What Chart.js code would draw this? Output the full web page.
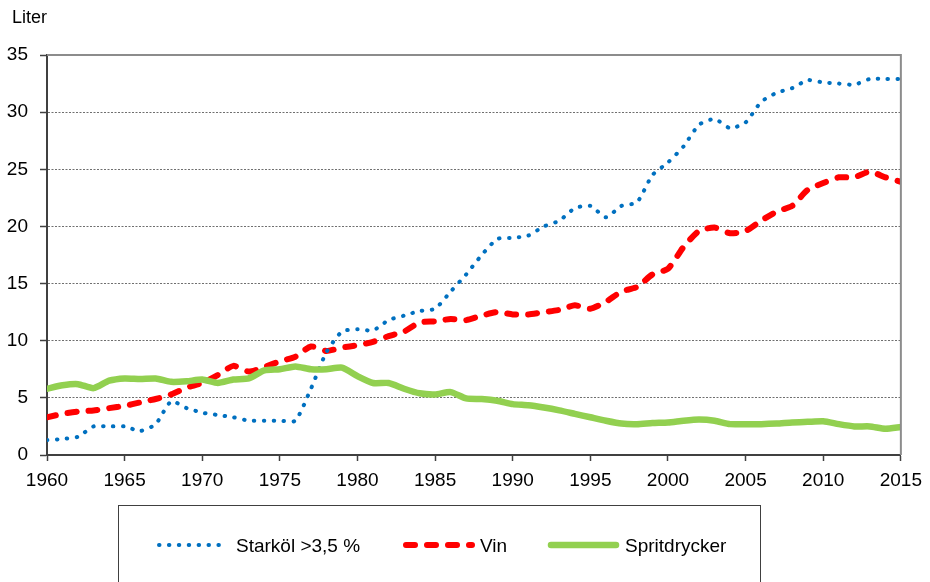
<!DOCTYPE html>
<html>
<head>
<meta charset="utf-8">
<script src="https://cdn.jsdelivr.net/npm/chart.js@4/dist/chart.umd.min.js"></script>
<style>
  html, body { margin: 0; padding: 0; background: #fff; }
  .chart-container { position: relative; width: 930px; height: 582px; }
</style>
</head>
<body>
<div class="chart-container">
  <canvas id="chart"></canvas>
</div>
<script>
// Liter per invånare, 1960-2015
const years = [
  1960, 1961, 1962, 1963, 1964, 1965, 1966, 1967, 1968, 1969,
  1970, 1971, 1972, 1973, 1974, 1975, 1976, 1977, 1978, 1979,
  1980, 1981, 1982, 1983, 1984, 1985, 1986, 1987, 1988, 1989,
  1990, 1991, 1992, 1993, 1994, 1995, 1996, 1997, 1998, 1999,
  2000, 2001, 2002, 2003, 2004, 2005, 2006, 2007, 2008, 2009,
  2010, 2011, 2012, 2013, 2014, 2015
];

const starkol = [
  1.3, 1.4, 1.6, 2.5, 2.5, 2.5, 2.1, 2.7, 4.7, 4.1,
  3.7, 3.5, 3.3, 3.0, 3.0, 3.0, 3.0, 5.8, 9.0, 10.8,
  11.0, 10.9, 11.8, 12.2, 12.6, 12.8, 14.3, 15.8, 17.5, 18.9,
  19.0, 19.2, 20.0, 20.5, 21.6, 21.8, 20.8, 21.8, 22.1, 24.5,
  25.6, 27.0, 28.9, 29.4, 28.6, 29.1, 30.9, 31.7, 32.1, 32.8,
  32.6, 32.5, 32.4, 32.9, 32.9, 32.9
];

const vin = [
  3.3, 3.6, 3.8, 3.9, 4.1, 4.3, 4.6, 4.9, 5.3, 5.9,
  6.3, 7.0, 7.8, 7.3, 7.7, 8.2, 8.6, 9.5, 9.1, 9.4,
  9.6, 9.9, 10.4, 10.8, 11.6, 11.7, 11.9, 11.8, 12.2, 12.5,
  12.3, 12.3, 12.5, 12.7, 13.1, 12.8, 13.4, 14.3, 14.7, 15.8,
  16.3, 18.2, 19.6, 19.9, 19.4, 19.6, 20.5, 21.3, 21.8, 23.2,
  23.8, 24.3, 24.3, 24.8, 24.3, 23.9
];

const sprit = [
  5.8, 6.1, 6.2, 5.85, 6.5, 6.7, 6.65, 6.7, 6.4, 6.45,
  6.6, 6.3, 6.6, 6.7, 7.4, 7.5, 7.75, 7.5, 7.5, 7.65,
  6.9, 6.3, 6.3, 5.8, 5.4, 5.3, 5.5, 4.95, 4.9, 4.75,
  4.45, 4.35, 4.15, 3.9, 3.6, 3.3, 3.0, 2.75, 2.7, 2.8,
  2.85, 3.0, 3.1, 3.0, 2.7, 2.7, 2.7, 2.75, 2.85, 2.9,
  2.95, 2.7, 2.5, 2.5, 2.3, 2.45
];

const seriesNames = ['Starköl >3,5 %', 'Vin', 'Spritdrycker'];

const FONT = '"Liberation Sans", Arial, Helvetica, sans-serif';
Chart.defaults.font.family = FONT;
Chart.defaults.color = '#000';

const toPoints = (vals) => vals.map((v, i) => ({ x: years[i], y: v }));

const styles = [
  { color: '#0070C0', width: 4, dash: [0.5, 9.4], cap: 'round' },
  { color: '#FF0000', width: 6, dash: [9, 12], cap: 'round' },
  { color: '#92D050', width: 6.5, dash: [], cap: 'round' }
];

// ram runt diagrammet, "Liter" och legendrutan
const framePlugin = {
  id: 'frameAndLegend',
  afterDraw(chart) {
    const ctx = chart.ctx;
    const a = chart.chartArea;
    ctx.save();

    ctx.strokeStyle = '#8c8c8c';
    ctx.lineWidth = 2;
    ctx.beginPath();
    ctx.moveTo(a.left, a.top);
    ctx.lineTo(a.right, a.top);
    ctx.lineTo(a.right, a.bottom);
    ctx.stroke();

    ctx.fillStyle = '#000';
    ctx.font = '18px ' + FONT;
    ctx.textBaseline = 'alphabetic';
    ctx.textAlign = 'left';
    ctx.fillText('Liter', 12, 23);

    // legend
    ctx.strokeStyle = '#404040';
    ctx.lineWidth = 1;
    ctx.strokeRect(118.5, 505.5, 642, 120);

    const ly = 545;
    const samples = [
      { x1: 159, x2: 221, tx: 236 },
      { x1: 406, x2: 472, tx: 480 },
      { x1: 551, x2: 616, tx: 625 }
    ];
    samples.forEach((s, i) => {
      const st = styles[i];
      ctx.strokeStyle = st.color;
      ctx.lineWidth = st.width;
      ctx.lineCap = st.cap;
      ctx.setLineDash(st.dash);
      ctx.beginPath();
      ctx.moveTo(s.x1, ly);
      ctx.lineTo(s.x2, ly);
      ctx.stroke();
      ctx.setLineDash([]);
      ctx.fillStyle = '#000';
      ctx.font = '19px ' + FONT;
      ctx.fillText(seriesNames[i], s.tx, 552);
    });

    ctx.restore();
  }
};

const makeDataset = (label, vals, st, order) => ({
  label: label,
  data: toPoints(vals),
  borderColor: st.color,
  backgroundColor: st.color,
  borderWidth: st.width,
  borderDash: st.dash,
  borderCapStyle: st.cap,
  borderJoinStyle: 'round',
  pointRadius: 0,
  pointHoverRadius: 0,
  tension: 0.2,
  fill: false,
  order: order
});

new Chart(document.getElementById('chart'), {
  type: 'line',
  data: {
    datasets: [
      makeDataset(seriesNames[0], starkol, styles[0], 1),
      makeDataset(seriesNames[1], vin, styles[1], 2),
      makeDataset(seriesNames[2], sprit, styles[2], 0)
    ]
  },
  options: {
    responsive: true,
    maintainAspectRatio: false,
    animation: false,
    layout: {
      padding: { top: 55, right: 26, left: 0, bottom: 0 }
    },
    plugins: {
      legend: { display: false },
      tooltip: { enabled: false },
      title: { display: false }
    },
    scales: {
      x: {
        type: 'linear',
        min: 1960,
        max: 2015,
        afterFit: (scale) => { scale.height = 127; },
        grid: {
          drawOnChartArea: false,
          drawTicks: true,
          tickLength: 6,
          tickColor: '#404040',
          tickWidth: 1.5
        },
        border: { display: true, color: '#404040', width: 2 },
        ticks: {
          stepSize: 5,
          autoSkip: false,
          maxRotation: 0,
          minRotation: 0,
          padding: 8,
          color: '#000',
          font: { size: 19 },
          callback: (v) => String(v)
        }
      },
      y: {
        min: 0,
        max: 35,
        afterFit: (scale) => { scale.width = 47; },
        grid: {
          color: (c) => (c.tick && (c.tick.value === 0 || c.tick.value === 35)) ? 'rgba(0,0,0,0)' : '#6f6f6f',
          lineWidth: 1,
          drawTicks: true,
          tickLength: 7,
          tickColor: '#404040',
          tickWidth: 1.5,
          tickBorderDash: []
        },
        border: { display: true, color: '#404040', width: 2, dash: [2, 1.5] },
        ticks: {
          stepSize: 5,
          padding: 12,
          color: '#000',
          font: { size: 19 }
        }
      }
    }
  },
  plugins: [framePlugin]
});
</script>
</body>
</html>
